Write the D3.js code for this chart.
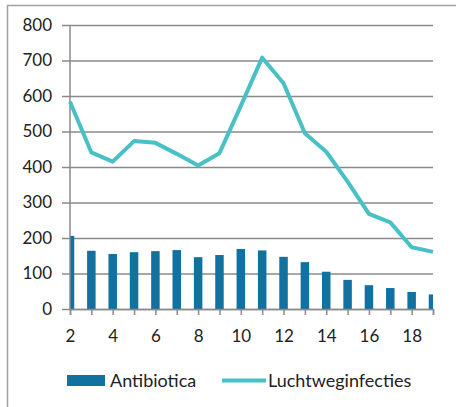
<!DOCTYPE html>
<html>
<head>
<meta charset="utf-8">
<script src="https://cdn.jsdelivr.net/npm/d3@7"></script>
<style>
  body { margin: 0; background: #fff; }
  text { font-family: Lato, "Open Sans", sans-serif; fill: #222; }
</style>
</head>
<body>
<svg id="chart" width="456" height="407"></svg>
<script>
// week numbers on the x axis
var weeks = [2, 3, 4, 5, 6, 7, 8, 9, 10, 11, 12, 13, 14, 15, 16, 17, 18, 19];
// bars
var antibiotica = [206, 164, 155, 160, 163, 166, 146, 152, 169, 165, 147, 132, 105, 82, 67, 59, 48, 41];
// line
var luchtweg = [584, 441, 415, 473, 468, 437, 404, 439, 572, 708, 636, 495, 443, 359, 268, 244, 174, 161];
var yTicks = [0, 100, 200, 300, 400, 500, 600, 700, 800];
var xLabels = [2, 4, 6, 8, 10, 12, 14, 16, 18];

var svg = d3.select('#chart');
var margin = { left: 70, right: 23, top: 25, bottom: 98 };
var w = 456 - margin.left - margin.right;
var h = 407 - margin.top - margin.bottom;

// outer frame
svg.append('rect')
	.attr('x', 7.5).attr('y', 5.5)
	.attr('width', 460).attr('height', 420)
	.attr('fill', 'none')
	.attr('stroke', '#a0a0a0')
	.attr('stroke-width', 1.5);

var g = svg.append('g').attr('transform', `translate(${margin.left},${margin.top})`);

var x = d3.scaleLinear().domain([2, 19]).range([0, w]);
var y = d3.scaleLinear().domain([0, 800]).range([h, 0]);

// gridlines + y labels
var yAxis = d3.axisLeft(y).tickValues(yTicks).tickSize(-w).tickPadding(10);
var ya = g.append('g').call(yAxis);
ya.select('.domain').remove();
ya.selectAll('.tick line')
	.attr('x1', -8)
	.attr('stroke', '#8a8a8a')
	.attr('stroke-width', 1.5);
ya.selectAll('.tick text')
	.style('font-size', '17px')
	.attr('x', -18);

// clip so the first and last bars are cut in half
g.append('clipPath').attr('id', 'plot')
	.append('rect').attr('x', 0).attr('y', -10).attr('width', w).attr('height', h + 10);

var barW = 8.5;
g.append('g').attr('clip-path', 'url(#plot)')
	.selectAll('rect')
	.data(antibiotica)
	.enter().append('rect')
	.attr('x', function(d, i){ return x(weeks[i]) - barW / 2 })
	.attr('y', function(d){ return y(d) })
	.attr('width', barW)
	.attr('height', function(d){ return h - y(d) })
	.attr('fill', '#11719f');

// y axis line
g.append('line')
	.attr('x1', 0).attr('x2', 0).attr('y1', 0).attr('y2', h)
	.attr('stroke', '#8a8a8a').attr('stroke-width', 1.5);

// x axis
var xAxis = d3.axisBottom(x).tickValues(weeks).tickSize(6).tickPadding(15)
	.tickFormat(function(d){ return xLabels.indexOf(d) >= 0 ? d : '' });
var xa = g.append('g').attr('transform', `translate(0,${h})`).call(xAxis);
xa.select('.domain').attr('stroke', '#8a8a8a').attr('stroke-width', 1.5);
xa.selectAll('.tick line').attr('stroke', '#8a8a8a').attr('stroke-width', 1.5);
xa.selectAll('.tick text').style('font-size', '17px');

// line
var line = d3.line()
	.x(function(d, i){ return x(weeks[i]) })
	.y(function(d){ return y(d) });
g.append('path')
	.datum(luchtweg)
	.attr('d', line)
	.attr('fill', 'none')
	.attr('stroke', '#49c0c6')
	.attr('stroke-width', 4)
	.attr('stroke-linejoin', 'round');

// legend
var leg = svg.append('g');
leg.append('rect')
	.attr('x', 67).attr('y', 375).attr('width', 38).attr('height', 11)
	.attr('fill', '#11719f');
leg.append('text')
	.attr('x', 110).attr('y', 387)
	.style('font-size', '18px')
	.text('Antibiotica');
leg.append('line')
	.attr('x1', 222).attr('x2', 266).attr('y1', 380.5).attr('y2', 380.5)
	.attr('stroke', '#49c0c6').attr('stroke-width', 4);
leg.append('text')
	.attr('x', 268).attr('y', 387)
	.style('font-size', '18px')
	.text('Luchtweginfecties');
</script>
</body>
</html>
